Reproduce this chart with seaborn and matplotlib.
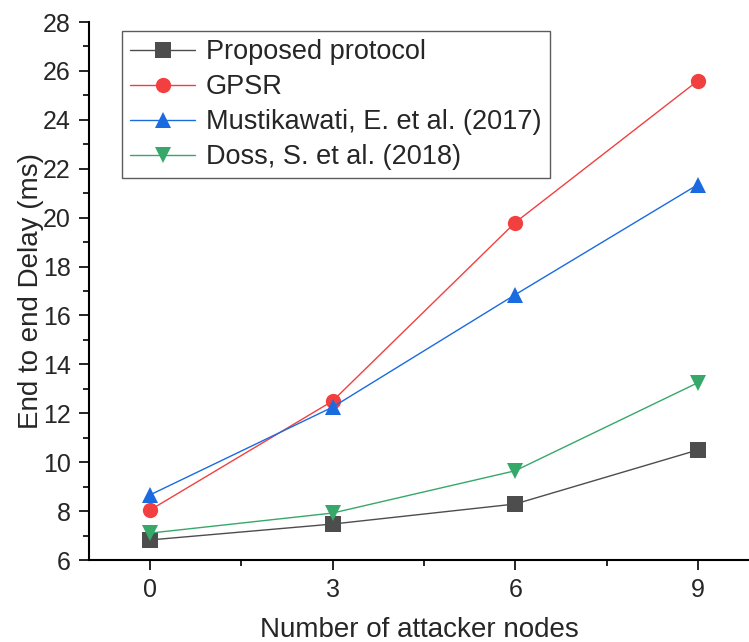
import matplotlib
matplotlib.use("Agg")
import matplotlib.pyplot as plt
import pandas as pd
import seaborn as sns
from matplotlib.ticker import MultipleLocator

sns.set_theme(style="ticks")
plt.rcParams["font.family"] = ["Liberation Sans", "DejaVu Sans"]

attackers = [0, 3, 6, 9]
proposed = [6.82, 7.47, 8.29, 10.5]
gpsr = [8.04, 12.5, 19.8, 25.6]
mustikawati = [8.66, 12.25, 16.85, 21.35]
doss = [7.1, 7.92, 9.65, 13.25]

series_names = ["Proposed protocol", "GPSR", "Mustikawati, E. et al. (2017)", "Doss, S. et al. (2018)"]
series_values = [proposed, gpsr, mustikawati, doss]
colors = ["#4d4d4d", "#f24040", "#1a6be0", "#36a86a"]
markers = ["s", "o", "^", "v"]

df = pd.DataFrame([
    {"attackers": x, "delay": y, "series": name}
    for name, vals in zip(series_names, series_values)
    for x, y in zip(attackers, vals)
])

fig = plt.figure(figsize=(7.49, 6.42), dpi=100)
ax = fig.add_axes([0.1188, 0.1277, 0.8812, 0.838])

sns.lineplot(data=df, x="attackers", y="delay", hue="series", style="series",
             hue_order=series_names, style_order=series_names,
             palette=dict(zip(series_names, colors)),
             markers=dict(zip(series_names, markers)), dashes=False,
             linewidth=1, markersize=11, markeredgewidth=0, ax=ax)

ax.set_xlim(-1, 9.84)
ax.set_ylim(6, 28)
ax.xaxis.set_major_locator(MultipleLocator(3))
ax.xaxis.set_minor_locator(MultipleLocator(1.5))
ax.yaxis.set_major_locator(MultipleLocator(2))
ax.yaxis.set_minor_locator(MultipleLocator(1))
ax.tick_params(which="major", direction="out", length=7, width=1.2, labelsize=18,
               color="black", pad=6)
ax.tick_params(which="minor", direction="out", length=4, width=1.2, color="black")
for s in ["top", "right"]:
    ax.spines[s].set_visible(False)
for s in ["left", "bottom"]:
    ax.spines[s].set_linewidth(1.5)
    ax.spines[s].set_color("black")

ax.set_xlabel("Number of attacker nodes", fontsize=20, labelpad=11)
ax.set_ylabel("End to end Delay (ms)", fontsize=20, labelpad=-1)

leg = ax.legend(loc="upper left", bbox_to_anchor=(0.05, 0.983), fontsize=19.5,
                frameon=True, fancybox=False, edgecolor="#333333",
                handlelength=2.4, handletextpad=0.4, labelspacing=0.33,
                borderpad=0.3, borderaxespad=0)
leg.get_frame().set_linewidth(1)

fig.savefig("out.png", dpi=100)
